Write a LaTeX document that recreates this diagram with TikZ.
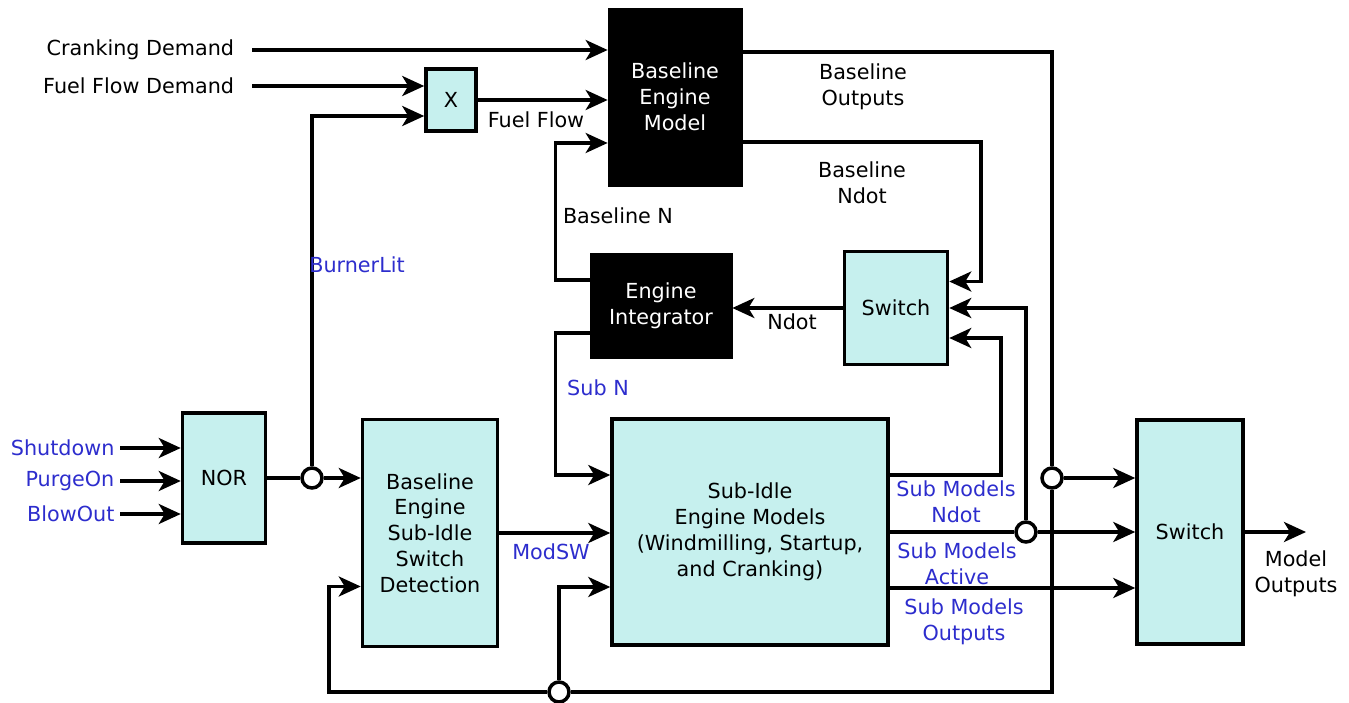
\documentclass[tikz,border=0pt]{standalone}
\usepackage{fontspec}
\setmainfont{DejaVu Sans}
\usetikzlibrary{positioning,arrows.meta}
\definecolor{boxcyan}{RGB}{198,240,238}
\definecolor{sigblue}{RGB}{45,45,205}

\begin{document}
\begin{tikzpicture}[x=0.02cm,y=-0.02cm,
  font=\fontsize{11.8}{14.7}\selectfont,
  cbox/.style={rectangle, draw=black, fill=boxcyan, line width=2pt, align=center, inner sep=0pt},
  blk/.style={rectangle, draw=black, fill=black, text=white, align=center, inner sep=0pt},
  lbl/.style={align=center, inner sep=1pt},
  sig/.style={lbl, text=sigblue},
  dot/.style={circle, draw=black, fill=white, line width=2pt, minimum size=0.4cm, inner sep=0pt},
  arr/.style={-{Stealth[length=0.44cm,width=0.4cm,inset=0.12cm]}},
  wire/.style={line width=2pt, black}]
  \useasboundingbox (0,0) rectangle (1349,703);

  % blocks
  \node[blk, minimum width=2.68cm, minimum height=3.56cm] (bem) at (675,97) {Baseline\\Engine\\Model};
  \node[cbox, minimum width=1.0cm, minimum height=1.24cm] (mult) at (451,100) {X};
  \node[blk, minimum width=2.84cm, minimum height=2.1cm] (eint) at (661,306) {Engine\\Integrator};
  \node[cbox, minimum width=2.06cm, minimum height=2.26cm] (swa) at (896,308) {Switch};
  \node[cbox, minimum width=1.66cm, minimum height=2.6cm] (nor) at (224,478) {NOR};
  \node[cbox, minimum width=2.7cm, minimum height=4.54cm] (detect) at (430,533) {Baseline\\Engine\\Sub-Idle\\Switch\\Detection};
  \node[cbox, minimum width=5.52cm, minimum height=4.52cm] (subidle) at (750,532) {Sub-Idle\\Engine Models\\(Windmilling, Startup,\\and Cranking)};
  \node[cbox, minimum width=2.12cm, minimum height=4.48cm] (swb) at (1190,532) {Switch};

  % branch points
  \node[dot] (c1) at (312,478) {};
  \node[dot] (c2) at (1026,532) {};
  \node[dot] (c3) at (1052,478) {};
  \node[dot] (c4) at (559,692) {};

  % inputs
  \node[lbl, anchor=east, inner xsep=10pt] (crank) at (252,50) {Cranking Demand};
  \node[lbl, anchor=east, inner xsep=10pt] (ffd) at (252,86) {Fuel Flow Demand};
  \node[sig, anchor=east, inner xsep=3pt] (shut) at (120,448) {Shutdown};
  \node[sig, anchor=east, inner xsep=3pt] (purge) at (120,481) {PurgeOn};
  \node[sig, anchor=east, inner xsep=3pt] (blow) at (120,514) {BlowOut};
  \coordinate (mout) at (1306,532);

  % connectors
  \draw[wire,arr] (crank.east) -- (crank.east -| bem.west);
  \draw[wire,arr] (ffd.east) -- (ffd.east -| mult.west);
  \draw[wire,arr] (mult.east) -- (mult.east -| bem.west);
  \draw[wire,arr] ([yshift=0.52cm]eint.west) -- ++(-0.68cm,0) |- ([yshift=-0.92cm]bem.west);
  \draw[wire,arr] ([yshift=-0.54cm]eint.west) -- ++(-0.68cm,0) |- ([yshift=1.14cm]subidle.west);
  \draw[wire,arr] (shut.east) -- (shut.east -| nor.west);
  \draw[wire,arr] (purge.east) -- (purge.east -| nor.west);
  \draw[wire,arr] (blow.east) -- (blow.east -| nor.west);
  \draw[wire] (nor.east) -- (c1.west);
  \draw[wire,arr] (c1.east) -- (c1.east -| detect.west);
  \draw[wire,arr] (c1.north) |- ([yshift=-0.32cm]mult.west);
  \draw[wire,arr] (detect.east) -- (detect.east -| subidle.west);
  \draw[wire,arr] (c4.north) |- ([yshift=-1.1cm]subidle.west);
  \draw[wire] ([yshift=0.9cm]bem.east) -| (c3.north);
  \draw[wire] (c3.south) |- (c4.east);
  \draw[wire,arr] (c4.west) -| ([xshift=-0.64cm,yshift=-1.07cm]detect.west) -- ([yshift=-1.07cm]detect.west);
  \draw[wire,arr] (c3.east) -- (c3.east -| swb.west);
  \draw[wire,arr] ([yshift=-0.9cm]bem.east) -| ([xshift=0.64cm,yshift=0.53cm]swa.east) -- ([yshift=0.53cm]swa.east);
  \draw[wire,arr] ([yshift=1.14cm]subidle.east) -| ([xshift=1.04cm,yshift=-0.6cm]swa.east) -- ([yshift=-0.6cm]swa.east);
  \draw[wire] (subidle.east) -- (c2.west);
  \draw[wire,arr] (c2.east) -- (c2.east -| swb.west);
  \draw[wire,arr] (c2.north) |- (swa.east);
  \draw[wire,arr] ([yshift=-1.12cm]subidle.east) -- ([yshift=-1.12cm]subidle.east -| swb.west);
  \draw[wire,arr] (swa.west) -- (swa.west -| eint.east);
  \draw[wire,arr] (swb.east) -- (mout);

  % signal labels
  \node[lbl] (fflow) at (536,120) {Fuel Flow};
  \node[lbl] (blout) at (863,87) {Baseline\\Outputs};
  \node[lbl] (blndot) at (862,183) {Baseline\\Ndot};
  \node[lbl] (bln) at (618,216) {Baseline N};
  \node[sig] (burner) at (357,265) {BurnerLit};
  \node[lbl] (ndot) at (792,322) {Ndot};
  \node[sig] (subn) at (598,388) {Sub N};
  \node[sig] (modsw) at (551,552) {ModSW};
  \node[sig] (smndot) at (956,502) {Sub Models\\Ndot};
  \node[sig] (smact) at (957,564) {Sub Models\\Active};
  \node[sig] (smout) at (964,622) {Sub Models\\Outputs};
  \node[lbl] (mdlout) at (1296,574) {Model\\Outputs};
\end{tikzpicture}
\end{document}
